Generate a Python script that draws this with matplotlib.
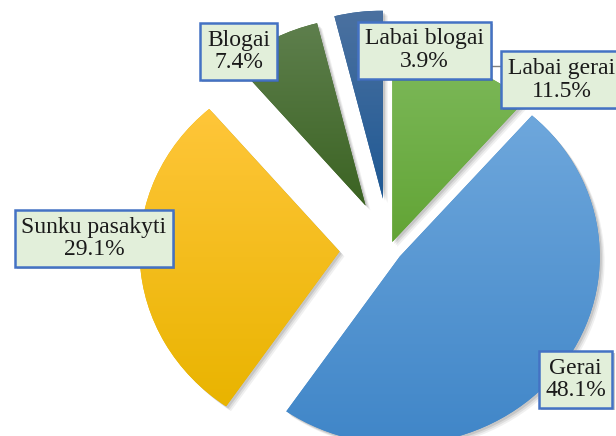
import numpy as np
import matplotlib.pyplot as plt
import matplotlib.patheffects as pe
from matplotlib.colors import LinearSegmentedColormap

# data
labels = ['Labai gerai', 'Gerai', 'Sunku pasakyti', 'Blogai', 'Labai blogai']
values = [11.5, 48.1, 29.1, 7.4, 3.9]
explode = [0.04, 0.065, 0.25, 0.26, 0.27]

# gradient colours (top, bottom) for each slice
top_colors = ['#7db95a', '#6ea7dc', '#ffc63a', '#5e7f4d', '#4b71a0']
bottom_colors = ['#62a435', '#4086c8', '#e9b400', '#3b6322', '#1f5994']

# label box centres (data units) -- layout only
label_pos = [(0.86, 0.90), (0.93, -0.694), (-1.4775, 0.056), (-0.755, 1.05), (0.175, 1.058)]

plt.rcParams['font.family'] = ['Liberation Serif', 'DejaVu Serif']

fig = plt.figure(figsize=(6.16, 4.36), dpi=100)
ax = fig.add_axes([0, 0, 1, 1])

wedges, _ = ax.pie(values, explode=explode, startangle=90, counterclock=False,
                   colors=bottom_colors, radius=1,
                   wedgeprops=dict(linewidth=0, edgecolor='none'))

shadow = [pe.SimplePatchShadow(offset=(o, -o), shadow_rgbFace='k', alpha=a)
          for o, a in [(3.5, 0.06), (2.5, 0.08), (1.5, 0.1)]]

grad = np.linspace(0, 1, 256).reshape(-1, 1)
for w, tc, bc in zip(wedges, top_colors, bottom_colors):
    w.set_path_effects(shadow + [pe.Normal()])
    ext = w.get_path().get_extents()
    cmap = LinearSegmentedColormap.from_list('g', [bc, tc])
    im = ax.imshow(grad, extent=(ext.x0, ext.x1, ext.y0, ext.y1), origin='lower',
                   cmap=cmap, aspect='auto', zorder=w.get_zorder() + 0.1,
                   interpolation='bilinear')
    im.set_clip_path(w)

# leader line for "Labai gerai"
ax.plot([0.45, 0.56], [0.975, 0.975], color='#7f7f7f', lw=1, zorder=3)

for lab, v, (x, y) in zip(labels, values, label_pos):
    t = ax.text(x, y, f'{lab}\n{v}%', ha='center', va='center', fontsize=17,
                color='#1a1a1a', linespacing=1.1, zorder=5,
                bbox=dict(boxstyle='square,pad=0.28', facecolor='#e2efda',
                          edgecolor='#4472c4', linewidth=1.8))
    t.get_bbox_patch().set_path_effects(
        [pe.SimplePatchShadow(offset=(1.5, -1.5), shadow_rgbFace='k', alpha=0.2), pe.Normal()])

ax.set_aspect('auto')
ax.set_xlim(-1.9475, 1.1325)
ax.set_ylim(-0.9947, 1.3245)
ax.axis('off')

fig.savefig('out.png', dpi=100)
